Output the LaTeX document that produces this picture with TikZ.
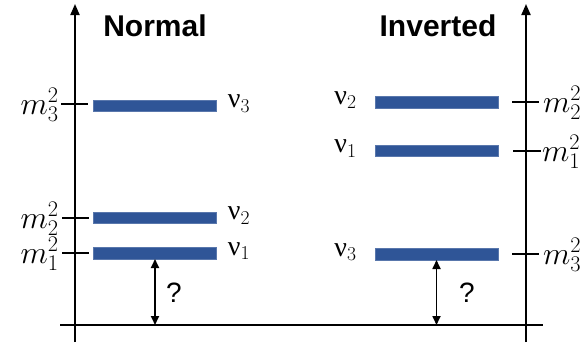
\RequirePackage{fix-cm}
\documentclass[tikz,border=0pt]{standalone}
\usepackage{graphicx}
\usepackage{fontspec}
\setsansfont{Liberation Sans}
\newfontfamily\grk{Liberation Serif}
\usetikzlibrary{arrows.meta}
\definecolor{barblue}{HTML}{2F5597}
\tikzset{
  axisline/.style={line width=2pt,draw=black},
  axisarrow/.style={axisline,-{Triangle[length=11pt,width=9pt]}},
  tickline/.style={line width=2.6pt,draw=black},
  levelbar/.style={rectangle,fill=barblue,draw=barblue!80!white,line width=0.5pt,minimum width=123pt,minimum height=11.5pt,inner sep=0pt},
  dblarrow/.style={line width=1.7pt,{Triangle[length=9pt,width=8pt]}-{Triangle[length=9pt,width=8pt]}},
  title/.style={font=\sffamily\bfseries\fontsize{30}{33}\selectfont,inner sep=0pt},
  mlab/.style={font=\fontsize{27}{31}\selectfont,inner sep=0pt},
  nulab/.style={font=\fontsize{28}{32}\selectfont,inner sep=0pt},
  qlab/.style={font=\sffamily\fontsize{28}{32}\selectfont,inner sep=0pt}
}
\newcommand{\nulabel}[1]{{\grk ν}$_{#1}$}
\newcommand{\mlabel}[1]{\scalebox{1.18}{$m_{#1}^2$}}
\begin{document}
\begin{tikzpicture}[x=1pt,y=-1pt]
\useasboundingbox (0,0) rectangle (587,343);
% axes
\coordinate (LA0) at (75,342);
\coordinate (LA1) at (75,4);
\coordinate (RA0) at (526,342);
\coordinate (RA1) at (526,4);
\coordinate (B0) at (60,325);
\coordinate (B1) at (543,325);
\draw[axisarrow] (LA0) -- (LA1);
\draw[axisarrow] (RA0) -- (RA1);
\draw[axisline] (B0) -- (B1);
% titles
\node[title] (tN) at (155,26) {Normal};
\node[title] (tI) at (438,26) {Inverted};
% normal bars
\node[levelbar] (n3) at (155,105.5) {};
\node[levelbar] (n2) at (155,217.5) {};
\node[levelbar] (n1) at (155,253) {};
% inverted bars
\node[levelbar] (i2) at (436.5,102) {};
\node[levelbar] (i1) at (436.5,150.5) {};
\node[levelbar] (i3) at (436.5,254) {};
% left ticks
\coordinate (lt3a) at (61,104); \coordinate (lt3b) at (88,104);
\coordinate (lt2a) at (62,218); \coordinate (lt2b) at (89,218);
\coordinate (lt1a) at (62,253); \coordinate (lt1b) at (89,253);
\draw[tickline] (lt3a) -- (lt3b);
\draw[tickline] (lt2a) -- (lt2b);
\draw[tickline] (lt1a) -- (lt1b);
% right ticks
\coordinate (rt2a) at (512,102); \coordinate (rt2b) at (539,102);
\coordinate (rt1a) at (513,151); \coordinate (rt1b) at (541,151);
\coordinate (rt3a) at (512,254); \coordinate (rt3b) at (539,254);
\draw[tickline] (rt2a) -- (rt2b);
\draw[tickline] (rt1a) -- (rt1b);
\draw[tickline] (rt3a) -- (rt3b);
% mass labels
\node[mlab,anchor=east] (ml3) at ([xshift=-2pt,yshift=-1pt]lt3a) {\mlabel{3}};
\node[mlab,anchor=east] (ml2) at ([xshift=-3pt,yshift=-1pt]lt2a) {\mlabel{2}};
\node[mlab,anchor=east] (ml1) at ([xshift=-3pt,yshift=-1pt]lt1a) {\mlabel{1}};
\node[mlab,anchor=west] (mr2) at ([xshift=4pt,yshift=-1pt]rt2b) {\mlabel{2}};
\node[mlab,anchor=west] (mr1) at ([xshift=1pt,yshift=-1pt]rt1b) {\mlabel{1}};
\node[mlab,anchor=west] (mr3) at ([xshift=4pt,yshift=-1pt]rt3b) {\mlabel{3}};
% nu labels
\node[nulab,anchor=west] (nu3) at ([xshift=11pt,yshift=2pt]n3.east) {\nulabel{3}};
\node[nulab,anchor=west] (nu2) at ([xshift=11pt,yshift=2pt]n2.east) {\nulabel{2}};
\node[nulab,anchor=west] (nu1) at ([xshift=11pt,yshift=2pt]n1.east) {\nulabel{1}};
\node[nulab,anchor=east] (iu2) at ([xshift=-18pt,yshift=2pt]i2.west) {\nulabel{2}};
\node[nulab,anchor=east] (iu1) at ([xshift=-18pt,yshift=2pt]i1.west) {\nulabel{1}};
\node[nulab,anchor=east] (iu3) at ([xshift=-18pt,yshift=2pt]i3.west) {\nulabel{3}};
% mass gap arrows
\draw[dblarrow] (n1.south) -- (n1.south |- B0);
\draw[dblarrow] (i3.south) -- (i3.south |- B0);
\node[qlab] (q1) at (174,293) {?};
\node[qlab] (q2) at (467,293) {?};
\end{tikzpicture}
\end{document}
